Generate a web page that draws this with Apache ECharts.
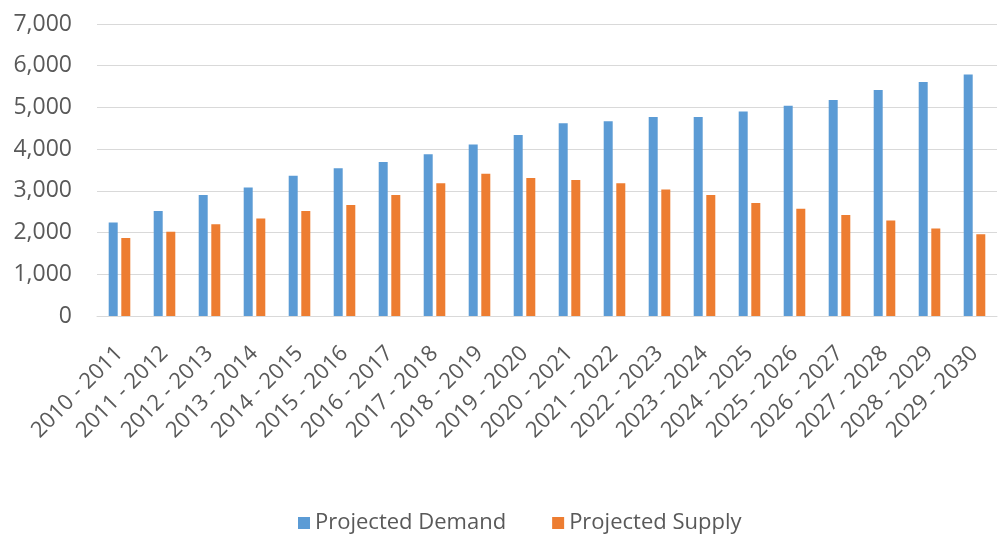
<!DOCTYPE html>
<html>
<head>
<meta charset="utf-8">
<script src="https://cdn.jsdelivr.net/npm/echarts@6/dist/echarts.min.js"></script>
<style>
  html, body { margin: 0; padding: 0; background: #fff; }
  #chart { width: 998px; height: 538px; }
</style>
</head>
<body>
<div id="chart"></div>
<script>
var categories = [
    '2010 - 2011', '2011 - 2012', '2012 - 2013', '2013 - 2014', '2014 - 2015',
    '2015 - 2016', '2016 - 2017', '2017 - 2018', '2018 - 2019', '2019 - 2020',
    '2020 - 2021', '2021 - 2022', '2022 - 2023', '2023 - 2024', '2024 - 2025',
    '2025 - 2026', '2026 - 2027', '2027 - 2028', '2028 - 2029', '2029 - 2030'
];
var demand = [2240, 2520, 2900, 3080, 3360, 3540, 3690, 3880, 4110, 4340,
              4620, 4670, 4770, 4770, 4900, 5040, 5180, 5420, 5610, 5790];
var supply = [1870, 2020, 2200, 2340, 2520, 2660, 2900, 3180, 3410, 3310,
              3260, 3180, 3030, 2900, 2710, 2570, 2420, 2290, 2100, 1960];

var chart = echarts.init(document.getElementById('chart'), null, {renderer: 'canvas'});

var option = {
    backgroundColor: '#fff',
    animation: false,
    textStyle: {fontFamily: 'Open Sans'},
    grid: {left: 97, right: 1, top: 24, bottom: 222, containLabel: false},
    legend: {
        left: 293,
        top: 507,
        itemWidth: 12,
        itemHeight: 12,
        itemGap: 46,
        icon: 'rect',
        textStyle: {fontSize: 22, color: '#595959', fontFamily: 'Open Sans'},
        data: ['Projected Demand', 'Projected Supply']
    },
    xAxis: {
        type: 'category',
        data: categories,
        axisTick: {show: false},
        axisLine: {lineStyle: {color: '#d9d9d9', width: 1}},
        axisLabel: {
            rotate: 45,
            interval: 0,
            margin: 34,
            fontSize: 22,
            color: '#595959'
        }
    },
    yAxis: {
        type: 'value',
        min: 0,
        max: 7000,
        interval: 1000,
        axisLine: {show: false},
        axisTick: {show: false},
        splitLine: {lineStyle: {color: '#d9d9d9', width: 1}},
        axisLabel: {
            margin: 25,
            fontSize: 23,
            color: '#595959',
            formatter: function (v) {
                return v.toLocaleString('en-US');
            }
        }
    },
    series: [
        {
            name: 'Projected Demand',
            type: 'bar',
            data: demand,
            barWidth: 9,
            barGap: '40%',
            itemStyle: {color: '#5B9BD5'}
        },
        {
            name: 'Projected Supply',
            type: 'bar',
            data: supply,
            barWidth: 9,
            barGap: '40%',
            itemStyle: {color: '#ED7D31'}
        }
    ]
};

chart.setOption(option);
</script>
</body>
</html>
